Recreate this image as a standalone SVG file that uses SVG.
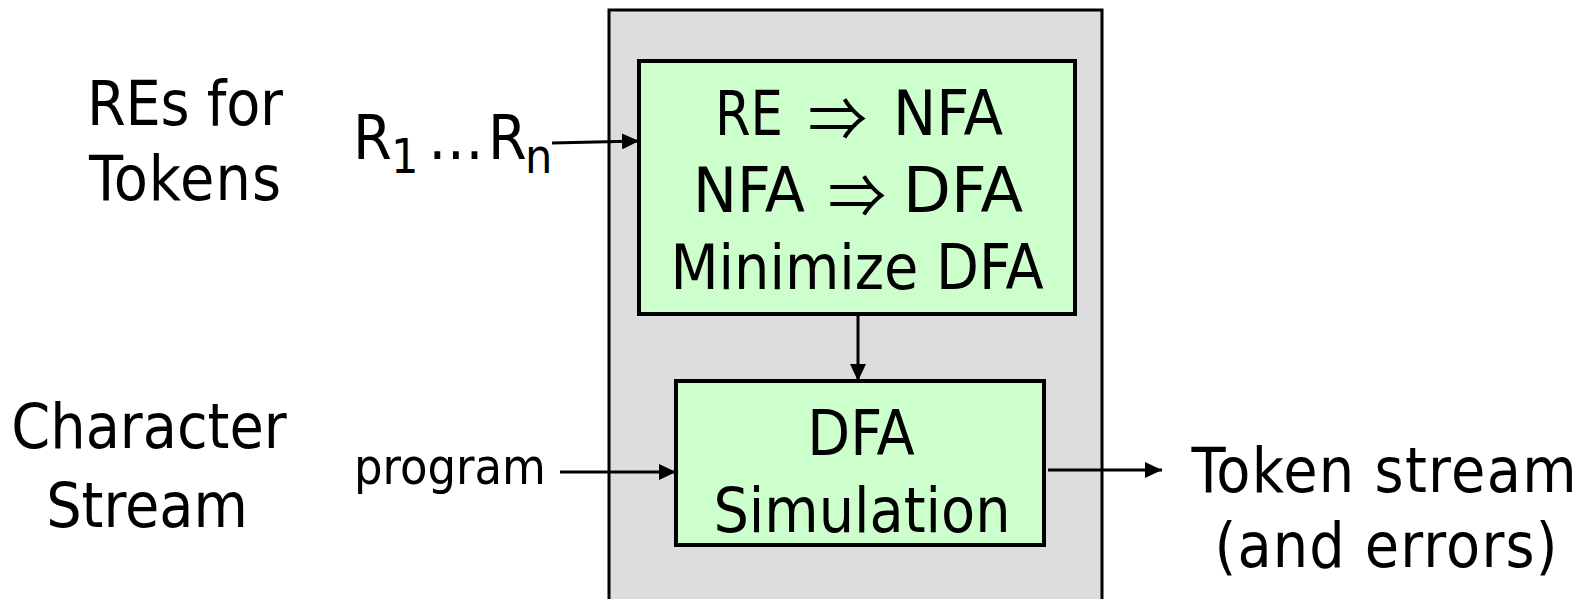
<svg xmlns="http://www.w3.org/2000/svg" width="1589" height="599" viewBox="0 0 1589 599">
<style>
text{font-family:"DejaVu Sans Condensed","DejaVu Sans",Verdana,sans-serif;font-stretch:condensed;fill:#000;text-anchor:middle}
.big{font-size:62px}
.mid{font-size:50px}
.st{text-anchor:start}
.arr{font-family:"Noto Sans CJK JP","DejaVu Serif",serif;font-stretch:normal;font-size:60px;text-anchor:start}
.box{fill:#CCFFCC;stroke:#000;stroke-width:4}
.edge{stroke:#000;stroke-width:3;fill:none}
</style>
<defs>
<marker id="ah" viewBox="0 0 17 16" refX="17" refY="8" markerWidth="17" markerHeight="16" markerUnits="userSpaceOnUse" orient="auto">
<path d="M0,0 L17,8 L0,16 z" fill="#000"/>
</marker>
</defs>
<rect width="1589" height="599" fill="#fff"/>
<g id="container">
<rect x="609" y="10" width="493" height="600" fill="#DDDDDD" stroke="#000" stroke-width="3"/>
</g>
<g id="label-res">
<text class="big" x="185" y="125" textLength="196">REs for</text>
<text class="big" x="185" y="200" textLength="192">Tokens</text>
</g>
<g id="label-char">
<text class="big" x="149" y="448">Character</text>
<text class="big" x="147" y="527">Stream</text>
</g>
<g id="label-rn">
<text class="big st" x="353" y="159">R</text>
<text class="st" x="391" y="173" font-size="48">1</text>
<text class="big st" x="428" y="159">…</text>
<text class="big st" x="488" y="159">R</text>
<text class="st" x="525" y="173" font-size="48">n</text>
</g>
<g id="label-program">
<text class="mid" x="450" y="484">program</text>
</g>
<g id="label-token">
<text class="big" x="1384" y="492" font-size="63" textLength="385">Token stream</text>
<text class="big" x="1386" y="567" font-size="63" textLength="343">(and errors)</text>
</g>
<g id="node-convert">
<rect class="box" x="639" y="61" width="436" height="253"/>
<text class="big st" x="715" y="135" textLength="68" lengthAdjust="spacingAndGlyphs">RE</text>
<text class="arr" x="808" y="141" textLength="59" lengthAdjust="spacingAndGlyphs">⇒</text>
<text class="big st" x="893" y="135" textLength="110" lengthAdjust="spacingAndGlyphs">NFA</text>
<text class="big st" x="693" y="212" textLength="112" lengthAdjust="spacingAndGlyphs">NFA</text>
<text class="arr" x="828" y="218" textLength="58" lengthAdjust="spacingAndGlyphs">⇒</text>
<text class="big st" x="903" y="212" textLength="120" lengthAdjust="spacingAndGlyphs">DFA</text>
<text class="big" x="857" y="289">Minimize DFA</text>
</g>
<g id="node-sim">
<rect class="box" x="676" y="381" width="368" height="164"/>
<text class="big" x="861" y="455">DFA</text>
<text class="big" x="862" y="532">Simulation</text>
</g>
<g id="connectors">
<line class="edge" x1="552" y1="143" x2="639" y2="141" marker-end="url(#ah)"/>
<line class="edge" x1="858" y1="314" x2="858" y2="381" marker-end="url(#ah)"/>
<line class="edge" x1="560" y1="472" x2="676" y2="472" marker-end="url(#ah)"/>
<line class="edge" x1="1048" y1="470" x2="1162" y2="470" marker-end="url(#ah)"/>
</g>
</svg>
